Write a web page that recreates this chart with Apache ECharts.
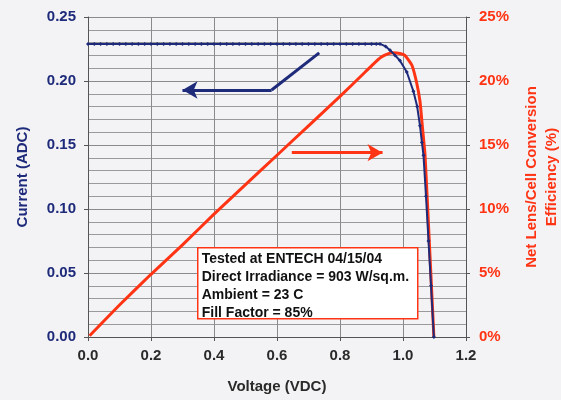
<!DOCTYPE html>
<html>
<head>
<meta charset="utf-8">
<script src="https://cdn.jsdelivr.net/npm/echarts@6/dist/echarts.min.js"></script>
<style>
html,body{margin:0;padding:0;background:#f3f3f5;}
#chart{width:561px;height:400px;}
</style>
</head>
<body>
<div id="chart"></div>
<script>
// Voltage (VDC), Current (ADC) for the I-V curve
const ivVoltage = [0.000,0.020,0.040,0.060,0.080,0.100,0.120,0.140,0.160,0.180,0.200,0.220,0.240,0.260,0.280,0.300,0.320,0.340,0.360,0.380,0.400,0.420,0.440,0.460,0.480,0.500,0.520,0.540,0.560,0.580,0.600,0.620,0.640,0.660,0.680,0.700,0.720,0.740,0.760,0.780,0.800,0.820,0.840,0.860,0.880,0.900,0.915,0.927,0.945,0.959,0.975,0.990,1.012,1.033,1.045,1.054,1.060,1.065,1.073,1.081,1.089,1.098];
const ivCurrent = [0.229,0.229,0.229,0.229,0.229,0.229,0.229,0.229,0.229,0.229,0.229,0.229,0.229,0.229,0.229,0.229,0.229,0.229,0.229,0.229,0.229,0.229,0.229,0.229,0.229,0.229,0.229,0.229,0.229,0.229,0.229,0.229,0.229,0.229,0.229,0.229,0.229,0.229,0.229,0.229,0.229,0.229,0.229,0.229,0.229,0.229,0.229,0.229,0.227,0.224,0.220,0.216,0.207,0.192,0.180,0.165,0.152,0.142,0.110,0.075,0.040,0.000];
// Voltage (VDC), Efficiency (%)
const effVoltage = [0.005,0.100,0.200,0.300,0.400,0.500,0.600,0.700,0.800,0.880,0.905,0.930,0.950,0.969,0.990,1.006,1.028,1.043,1.054,1.062,1.070,1.084,1.098];
const effValue = [0.1,2.5,4.9,7.2,9.6,11.9,14.2,16.5,18.8,20.7,21.3,21.85,22.1,22.2,22.15,22.0,21.25,19.9,18.4,16.3,14.2,7.2,0.0];
const infoLines = ['Tested at ENTECH 04/15/04','Direct Irradiance = 903 W/sq.m.','Ambient = 23 C','Fill Factor = 85%'];
// arrow annotations in data coordinates (voltage, current)
const blueArrow = [[0.734,0.222],[0.583,0.193],[0.300,0.193]];
const redArrow = [[0.647,0.144],[0.935,0.144]];

const NAVY = '#1e2a7a', RED = '#ff3414', FONT = '"Liberation Sans", Arial, sans-serif';
const chart = echarts.init(document.getElementById('chart'));
const zip = (a,b) => a.map((v,i)=>[v,b[i]]);
const arrowLine = (p1, p2, color) => ({
  symbol:['none','arrow'], symbolSize:[13,15], silent:true,
  label:{show:false}, lineStyle:{color:color,width:3,type:'solid',opacity:1},
  data:[[{coord:p1},{coord:p2}]]
});
chart.setOption({
  backgroundColor:'#f3f3f5',
  animation:false,
  textStyle:{fontFamily:FONT},
  grid:{left:88,right:95,top:17,bottom:63,containLabel:false,outerBoundsMode:'none'},
  xAxis:{type:'value',min:0,max:1.2,interval:0.2,
    axisLine:{lineStyle:{color:'#555',width:1}},
    axisTick:{show:true,length:4,lineStyle:{color:'#555'}},
    axisLabel:{margin:11,color:'#2a2a2a',fontSize:15,fontWeight:'bold',fontFamily:FONT,formatter:v=>v.toFixed(1)},
    splitLine:{show:true,lineStyle:{color:'#8a8a8a',width:1}},
    name:'Voltage (VDC)',nameLocation:'middle',nameGap:42,
    nameTextStyle:{color:'#2a2a2a',fontSize:15,fontWeight:'bold',fontFamily:FONT}},
  yAxis:[{type:'value',min:0,max:0.25,interval:0.05,
    axisLine:{show:true,lineStyle:{color:'#555'}},
    axisTick:{show:true,length:4,lineStyle:{color:'#555'}},
    minorTick:{show:false,splitNumber:5},
    minorSplitLine:{show:true,lineStyle:{color:'#9a9a9a',width:1}},
    splitLine:{show:true,lineStyle:{color:'#8a8a8a',width:1}},
    axisLabel:{margin:12,color:NAVY,fontSize:15,fontWeight:'bold',fontFamily:FONT,formatter:v=>v.toFixed(2)},
    name:'Current (ADC)',nameLocation:'middle',nameGap:58,nameRotate:90,
    nameTextStyle:{color:NAVY,fontSize:15,fontWeight:'bold',fontFamily:FONT}},
   {type:'value',min:0,max:25,interval:5,position:'right',
    axisLine:{show:true,lineStyle:{color:'#555'}},
    axisTick:{show:true,length:4,lineStyle:{color:'#555'}},
    splitLine:{show:false},
    axisLabel:{margin:13,color:RED,fontSize:15,fontWeight:'bold',fontFamily:FONT,formatter:v=>v+'%'},
    name:'Net Lens/Cell Conversion\nEfficiency (%)',nameLocation:'middle',nameGap:56,nameRotate:90,
    nameTextStyle:{color:RED,fontSize:15,fontWeight:'bold',fontFamily:FONT,lineHeight:20,align:'center'}}],
  series:[
    {type:'line',name:'Efficiency',yAxisIndex:1,data:zip(effVoltage,effValue),showSymbol:false,smooth:0.15,
     lineStyle:{color:RED,width:3},itemStyle:{color:RED},z:3},
    {type:'line',name:'Current',yAxisIndex:0,data:zip(ivVoltage,ivCurrent),symbol:'diamond',symbolSize:4,
     lineStyle:{color:NAVY,width:2},itemStyle:{color:NAVY},z:4},
    {type:'line',name:'blueArrow',yAxisIndex:0,data:blueArrow.slice(0,2),showSymbol:false,
     lineStyle:{color:NAVY,width:3},z:5,markLine:arrowLine(blueArrow[1],blueArrow[2],NAVY)},
    {type:'line',name:'redArrow',yAxisIndex:0,data:[],showSymbol:false,z:5,
     markLine:arrowLine(redArrow[0],redArrow[1],RED)}
  ],
  graphic:[{type:'group',left:197,top:247,z:100,children:[
    {type:'rect',z:100,shape:{x:0,y:0,width:220,height:71},style:{fill:'#ffffff',stroke:RED,lineWidth:1.5}},
    {type:'text',z:101,left:4,top:3,style:{text:infoLines.join('\n'),fill:'#111',font:'bold 14px '+FONT,lineHeight:17.7}}
  ]}]
});
</script>
</body>
</html>
